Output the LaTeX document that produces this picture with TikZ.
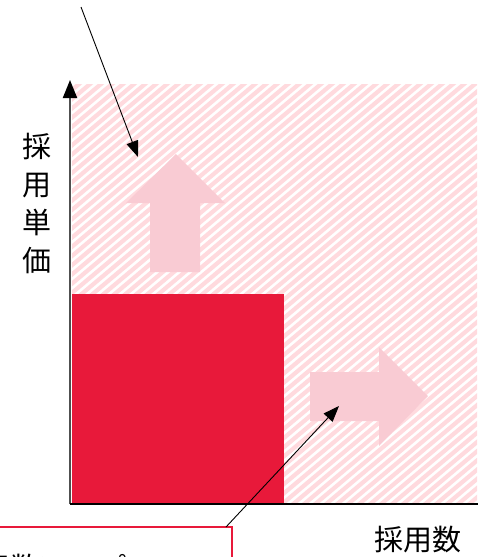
\documentclass[tikz,border=0pt]{standalone}
\usepackage{fontspec}
\newfontfamily\jp{Noto Sans CJK JP}
\usetikzlibrary{arrows.meta}
\definecolor{hotred}{RGB}{232,25,58}
\definecolor{softpink}{RGB}{249,203,211}
\definecolor{stripepink}{RGB}{255,218,222}
\definecolor{axisgray}{RGB}{80,80,80}
\tikzset{
  callout/.style={draw=black, line width=0.9pt, -{Triangle[length=16pt,width=12pt]}},
  bigarrow/.style={fill=softpink, draw=none},
  axislabel/.style={font=\jp\fontsize{29}{38}\selectfont, inner sep=0pt, align=center},
}
\begin{document}
\begin{tikzpicture}[x=1pt,y=-1pt]
\useasboundingbox (0,0) rectangle (477,557);
% hatched area
\begin{scope}
  \clip (72,84) rectangle (477,503);
  \foreach \i in {-42,...,46} {
    \draw[stripepink, line width=4.2pt] (\i*11,510) -- ++(520,-436);
  }
\end{scope}
% red block
\node[fill=hotred, draw=none, minimum width=212pt, minimum height=210pt, inner sep=0pt, anchor=north west] (bar) at (72,294) {};
% big pink arrows
\fill[bigarrow] (176,154) -- (225,203) -- (200,203) -- (200,272) -- (150,272) -- (150,203) -- (126,203) -- cycle;
\fill[bigarrow] (428,396) -- (379,446) -- (379,421) -- (310,421) -- (310,372) -- (379,372) -- (379,347) -- cycle;
% axes
\coordinate (origin) at (70,504);
\coordinate (ytop) at (70,80);
\coordinate (xend) at (480,504);
\draw[axisgray, line width=2pt, -{Triangle[length=18pt,width=14pt,color=black]}] (origin) -- (ytop);
\draw[black, line width=1.2pt] (origin) -- (xend);
% axis labels
\node[axislabel] (ylab) at (37,203) {採\\用\\単\\価};
\node[axislabel, anchor=base] (xlab) at (418,550) {採用数};
% bottom callout box
\node[draw=hotred, line width=2pt, anchor=north east, minimum width=260pt, minimum height=60pt, inner sep=0pt] (box) at (233,526) {};
\node[font=\jp\fontsize{29}{34}\selectfont, anchor=base west, inner sep=0pt] (boxtext) at (-48,578) {採用数アップ};
% callouts
\coordinate (c1start) at (81,7);
\coordinate (c1end) at (138,157);
\coordinate (c2start) at (226,527);
\coordinate (c2end) at (339,406);
\draw[callout] (c1start) -- (c1end);
\draw[callout] (c2start) -- (c2end);
\end{tikzpicture}
\end{document}
